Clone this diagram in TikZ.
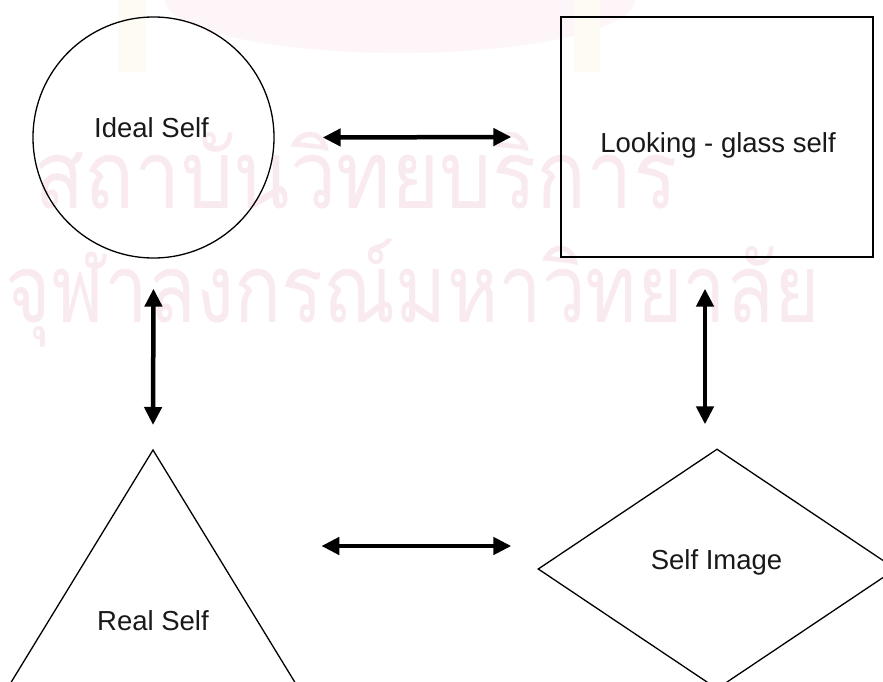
\documentclass[tikz,border=0pt]{standalone}
\usepackage{fontspec}
\usepackage{graphicx}
\setmainfont{Liberation Sans}
\newfontfamily\thaifont[Script=Thai]{Loma}
\usetikzlibrary{arrows.meta,shapes.geometric}
\definecolor{wmark}{RGB}{249,234,240}
\definecolor{wlogo}{RGB}{253,245,247}
\definecolor{wcol}{RGB}{253,251,244}
\tikzset{
  shapeline/.style={draw=black,line width=1.3pt,inner sep=0pt},
  biarrow/.style={line width=4.5pt,{Triangle[length=18pt,width=17pt]}-{Triangle[length=18pt,width=17pt]}},
  lbl/.style={font=\fontsize{27.5}{30}\selectfont,text=black!90,anchor=base,inner sep=0pt},
  wm/.style={font=\thaifont\fontsize{95}{100}\selectfont,text=wmark,anchor=base,inner sep=0pt}
}
\begin{document}
\begin{tikzpicture}[x=1pt,y=-1pt]
\useasboundingbox (0,0) rectangle (883,682);
\fill[white] (0,0) rectangle (883,682);
% faint watermark emblem
\begin{scope}
\clip (0,0) rectangle (883,682);
\fill[wlogo] (400,0) ellipse [x radius=235, y radius=53];
\fill[wcol] (118,0) rectangle (146,72);
\fill[wcol] (574,0) rectangle (600,72);
\end{scope}
\node[wm] (wm1) at (356,208) {\scalebox{0.87}[1]{สถาบันวิทยบริการ}};
\node[wm] (wm2) at (413,322) {\scalebox{0.82}[1]{จุฬาลงกรณ์มหาวิทยาลัย}};
% shapes
\node[shapeline,circle,minimum size=241pt] (ideal) at (153.5,137.5) {};
\node[shapeline,rectangle,minimum width=312pt,minimum height=240pt] (looking) at (717,137) {};
\begin{scope}
\clip (0,0) rectangle (883,682);
\node[shapeline,diamond,aspect=1.49,minimum width=358pt,minimum height=240pt] (image) at (717,569) {};
\coordinate (apex) at (153,450);
\draw[line width=1.3pt,line join=miter] (-15,725) -- (apex) -- (321,725) -- cycle;
\end{scope}
% labels
\node[lbl] (tideal) at (151.5,137) {Ideal Self};
\node[lbl] (tlooking) at (718,152) {Looking - glass self};
\node[lbl] (timage) at (716.5,569) {Self Image};
\node[lbl] (real) at (153,630) {Real Self};
% connectors
\draw[biarrow] ([xshift=48pt]ideal.east) -- ([xshift=-49pt]looking.west);
\draw[biarrow] ([yshift=-30pt]ideal.south) -- ([yshift=25pt]apex);
\draw[biarrow] ([xshift=-12pt,yshift=-31pt]looking.south) -- ([xshift=-12pt,yshift=24pt]image.north);
\draw[biarrow] ([xshift=-216pt,yshift=23pt]image.west) -- ([xshift=-26pt,yshift=23pt]image.west);
\end{tikzpicture}
\end{document}
